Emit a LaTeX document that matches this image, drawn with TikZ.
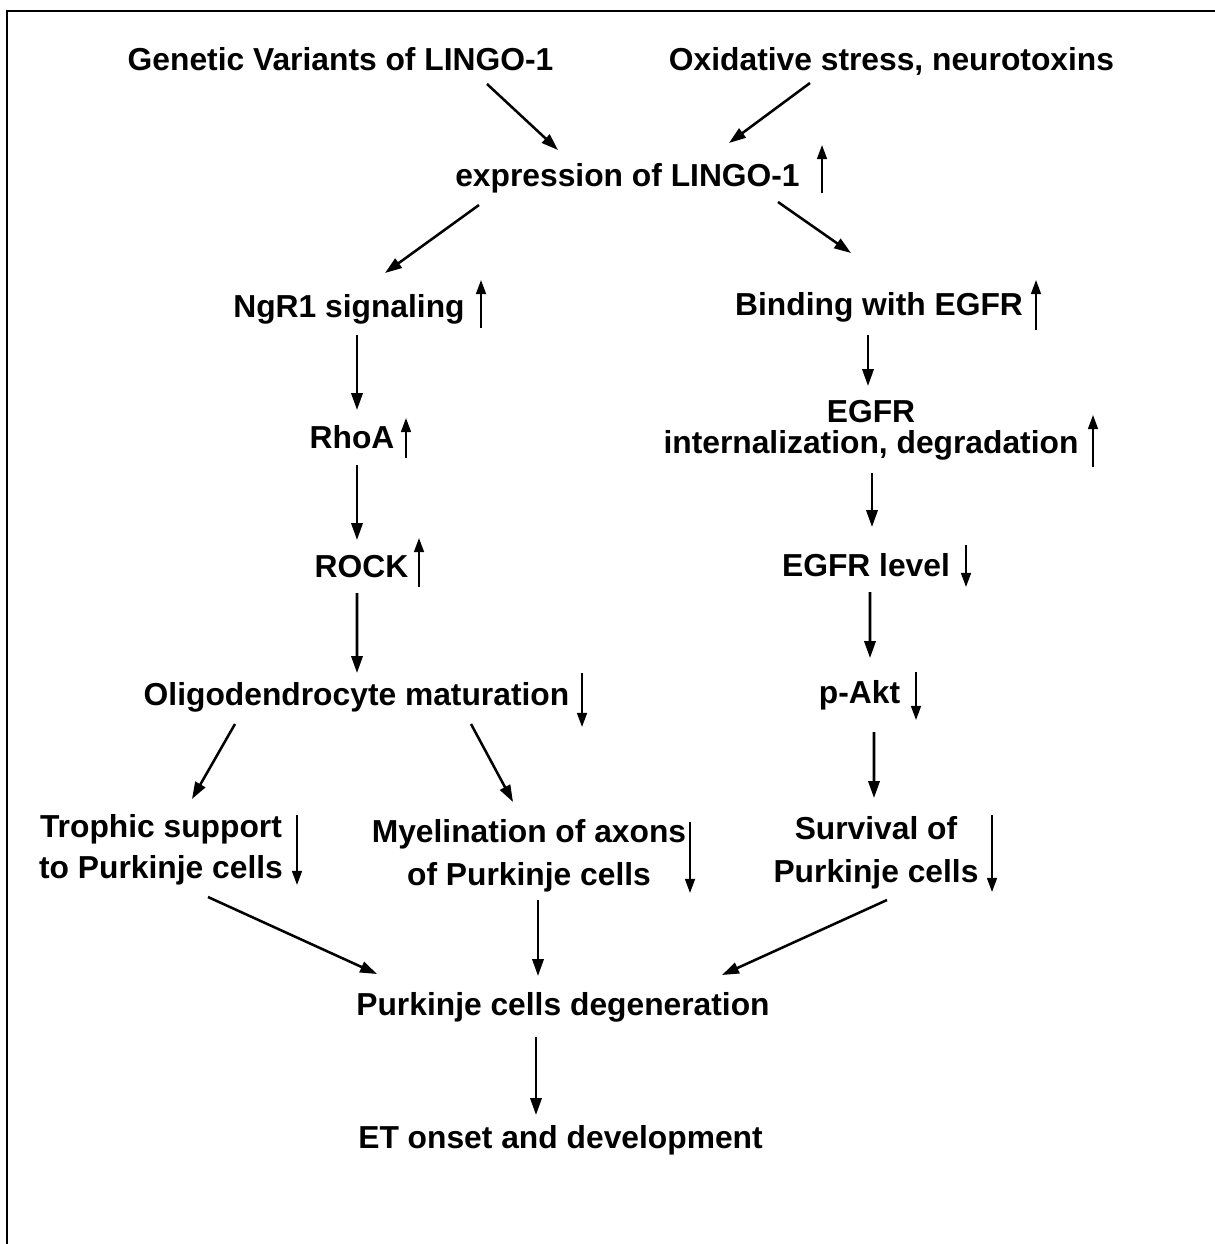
\documentclass[tikz,border=0pt]{standalone}
\usepackage{fontspec}
\setmainfont{Liberation Sans}
\usetikzlibrary{calc}
\usetikzlibrary{arrows.meta}

\begin{document}
\begin{tikzpicture}[x=0.025cm, y=-0.025cm,
    stage/.style={anchor=base, inner sep=0pt, align=center, font=\bfseries\fontsize{22.6}{29}\selectfont},
    link/.style={-{Triangle[length=12pt, width=8pt]}, line width=1.8pt},
    trend/.style={-{Triangle[length=10pt, width=7pt]}, line width=1.4pt}]
    \useasboundingbox (0,0) rectangle (1215,1244);
    \draw[line width=1.8pt] (7,1244) -- (7,11) -- (1215,11);

    % causes and expression
    \node[stage] (gen) at (340.5,70) {Genetic Variants of LINGO-1};
    \node[stage] (oxid) at (891.5,70) {Oxidative stress, neurotoxins};
    \node[stage] (expr) at (627.5,186) {expression of LINGO-1};

    % left branch
    \node[stage] (ngr) at (349,317) {NgR1 signaling};
    \node[stage] (rhoa) at (352,448) {RhoA};
    \node[stage] (rock) at (361.5,577) {ROCK};
    \node[stage] (oligo) at (356.5,705) {Oligodendrocyte maturation};
    \node[stage] (troph) at (161,878) {Trophic support\\to Purkinje cells};
    \node[stage] (myel) at (529,885) {Myelination of axons\\[1pt]of Purkinje cells};

    % right branch
    \node[stage] (bind) at (879,315) {Binding with EGFR};
    \node[stage] (egfr) at (871,453) {EGFR\\[-7pt]internalization, degradation};
    \node[stage] (level) at (866,576) {EGFR level};
    \node[stage] (pakt) at (859.5,703) {p-Akt};
    \node[stage] (surv) at (876,882) {Survival of\\[1pt]Purkinje cells};

    % outcome
    \node[stage] (pcdeg) at (563,1015) {Purkinje cells degeneration};
    \node[stage] (et) at (560.5,1148) {ET onset and development};

    \draw[link] ($(gen.base)+(146.5,14)$) -- ($(expr.base)+(-69.5,-36)$);
    \draw[link] ($(oxid.base)+(-81.5,13)$) -- ($(expr.base)+(101.5,-43)$);
    \draw[link] ($(expr.base)+(-148.5,19)$) -- ($(ngr.base)+(36,-44)$);
    \draw[link] ($(expr.base)+(150.5,16)$) -- ($(bind.base)+(-28,-62)$);
    \draw[link] ($(ngr.base)+(8,18)$) -- ($(rhoa.base)+(5,-38)$);
    \draw[link] ($(rhoa.base)+(5,17)$) -- ($(rock.base)+(-4.5,-37)$);
    \draw[link] ($(rock.base)+(-4.5,16)$) -- ($(oligo.base)+(0.5,-32)$);
    \draw[link] ($(bind.base)+(-11,20)$) -- ($(egfr.base)+(-3,-67)$);
    \draw[link] ($(egfr.base)+(1,20)$) -- ($(level.base)+(6,-49)$);
    \draw[link] ($(level.base)+(4,16)$) -- ($(pakt.base)+(10.5,-45)$);
    \draw[link] ($(pakt.base)+(14.5,29)$) -- ($(surv.base)+(-2,-84)$);
    \draw[link] ($(oligo.base)+(-121.5,19)$) -- ($(troph.base)+(31,-79)$);
    \draw[link] ($(oligo.base)+(114.5,19)$) -- ($(myel.base)+(-16,-83)$);
    \draw[link] ($(troph.base)+(47,19)$) -- ($(pcdeg.base)+(-186,-41)$);
    \draw[link] ($(myel.base)+(9,15)$) -- ($(pcdeg.base)+(-25,-39)$);
    \draw[link] ($(surv.base)+(11,18)$) -- ($(pcdeg.base)+(159,-40)$);
    \draw[link] ($(pcdeg.base)+(-27,22)$) -- ($(et.base)+(-24.5,-33)$);

    % up and down marks
    \foreach \n/\dx/\ya/\yb in {expr/194.5/7/-41, ngr/132/11/-37, bind/157/15/-35,
        rhoa/54/10/-30, rock/57.5/10/-39, oligo/225.5/-32/22, egfr/222/14/-38,
        level/100/-31/11, pakt/56.5/-31/17, troph/136/-63/7, myel/161/-63/8,
        surv/116/-67/10} {
        \draw[trend] ($(\n.base)+(\dx,\ya)$) -- ($(\n.base)+(\dx,\yb)$);
    }
\end{tikzpicture}
\end{document}
